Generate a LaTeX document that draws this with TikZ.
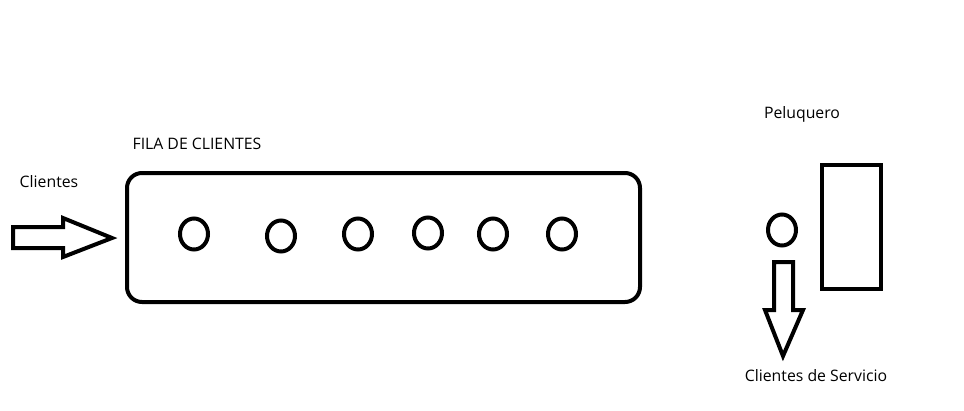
\documentclass[tikz,border=0pt]{standalone}
\usepackage{fontspec}
\setmainfont{Open Sans}
\begin{document}
\begin{tikzpicture}[x=1pt,y=-1pt,
  ln/.style={line width=4pt, draw=black},
  lbl/.style={inner sep=0pt, font=\fontsize{15.8}{18}\selectfont},
  person/.style={ln, x radius=14, y radius=15.5}]
\useasboundingbox (0,0) rectangle (964,410);
% labels
\node[lbl] (clientes) at (49,182) {Clientes};
\node[lbl] (fila) at (197,144) {FILA DE CLIENTES};
\node[lbl] (peluquero) at (802,114) {Peluquero};
\node[lbl] (servicio) at (816,376) {Clientes de Servicio};
% incoming arrow
\draw[ln, line join=miter] (13,227) -- (63,227) -- (63,218) -- (112,238) -- (63,257) -- (63,248) -- (13,248) -- cycle;
% queue box
\draw[ln, rounded corners=15pt] (127,173) rectangle (640,302);
% clients in queue
\foreach \cx/\cy in {194/234, 281/236, 358/234, 428/233, 493/234, 562/234}
  \draw[person] (\cx,\cy) ellipse [];
% served client
\draw[person] (782,230) ellipse [];
% barber chair
\draw[ln, line join=miter] (822,165) rectangle (881,289);
% outgoing arrow
\draw[ln, line join=miter] (774,262) -- (793,262) -- (793,310) -- (803,310) -- (783,356) -- (765,310) -- (774,310) -- cycle;
\end{tikzpicture}
\end{document}
